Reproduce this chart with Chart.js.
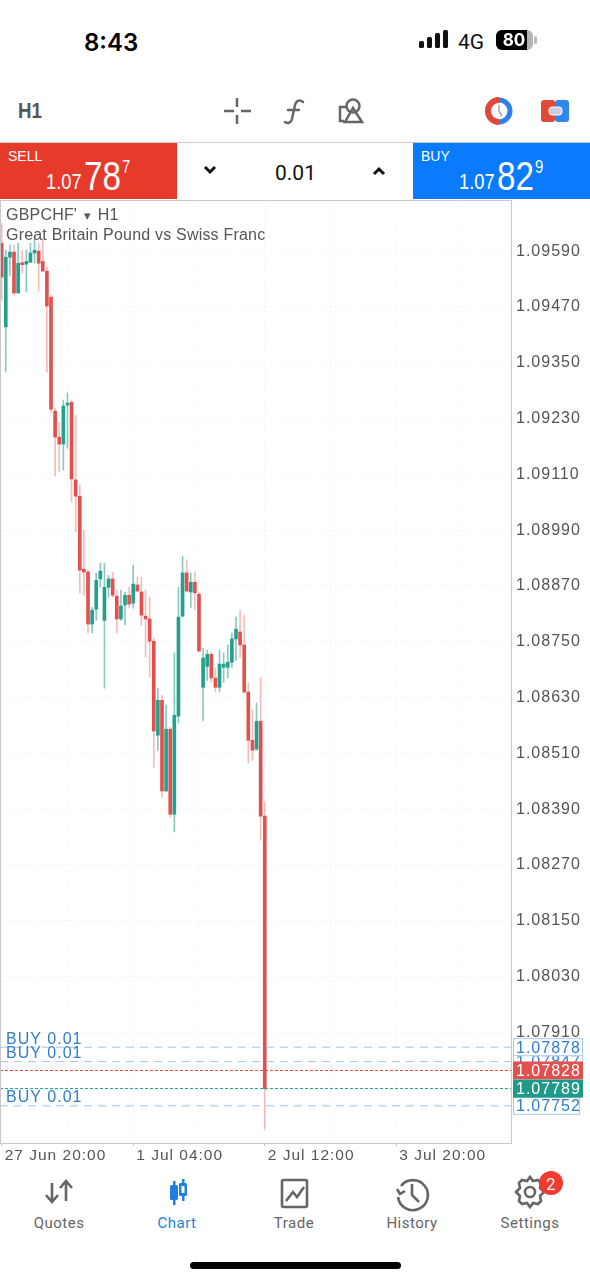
<!DOCTYPE html>
<html>
<head>
<meta charset="utf-8">
<script src="https://cdn.jsdelivr.net/npm/chart.js@4"></script>
<style>
  html, body { margin: 0; padding: 0; background: #fff; }
  body { position: relative; width: 590px; height: 1280px; overflow: hidden; font-family: "Liberation Sans", sans-serif; }
  .t { position: absolute; white-space: nowrap; line-height: 1; }
  .ic { position: absolute; left: 0; top: 0; }
  .bar { position: absolute; top: 143px; height: 56px; }
  .nar { color: #fff; transform: scaleX(0.83); transform-origin: left center; }
  .tab { position: absolute; top: 1216px; width: 100px; text-align: center; font: 15px Roboto, sans-serif; letter-spacing: .5px; color: #666; line-height: 1; }
  #wrap { position: absolute; left: 0; top: 200px; width: 590px; height: 975px; }
  canvas { display: block; }
</style>
</head>
<body>

<div class="t" style="left:84px;top:28px;font:600 24px Inter,sans-serif;color:#000">8:43</div>
<div class="t" style="left:458px;top:30px;font:21px Roboto,sans-serif;color:#111">4G</div>
<div class="t" style="left:18px;top:98px;font:bold 22px 'Liberation Sans',sans-serif;color:#555;transform:scaleX(.85);transform-origin:left">H1</div>

<div class="bar" style="left:0;width:177px;background:#e63a2a"></div>
<div class="bar" style="left:413px;width:177px;background:#0a7bff"></div>
<div style="position:absolute;left:0;top:142px;width:590px;height:1px;background:#ccc"></div>

<div class="t" style="left:8px;top:149px;font-size:14px;color:#fff">SELL</div>
<div class="t nar" style="left:46px;top:171px;font-size:22px">1.07</div>
<div class="t nar" style="left:84px;top:156px;font-size:40px">78</div>
<div class="t nar" style="left:122px;top:158px;font-size:18px">7</div>
<div class="t" style="left:421px;top:149px;font-size:14px;color:#fff">BUY</div>
<div class="t nar" style="left:459px;top:171px;font-size:22px">1.07</div>
<div class="t nar" style="left:497px;top:156px;font-size:40px">82</div>
<div class="t nar" style="left:535px;top:158px;font-size:18px">9</div>
<div class="t" style="left:275px;top:161px;font:21px Roboto,sans-serif;color:#111">0.01</div>

<div id="wrap"><canvas id="myChart" width="590" height="975"></canvas></div>

<div class="t" style="left:6px;top:206px;font:16px 'Liberation Sans',sans-serif;letter-spacing:.2px;color:#555">GBPCHF' <span style="font-size:13px;margin:0 2px;vertical-align:0">&#9662;</span> H1</div>
<div class="t" style="left:6px;top:226px;font:16px 'Liberation Sans',sans-serif;letter-spacing:.2px;color:#555">Great Britain Pound vs Swiss Franc</div>

<div class="tab" style="left:9px">Quotes</div>
<div class="tab" style="left:127px;color:#1f7fe0">Chart</div>
<div class="tab" style="left:244px">Trade</div>
<div class="tab" style="left:362px">History</div>
<div class="tab" style="left:480px">Settings</div>

<svg class="ic" width="590" height="1280" style="pointer-events:none">
  <!-- status bar -->
  <g fill="#111">
    <rect x="419" y="41" width="5" height="7" rx="1.5"/><rect x="427" y="37" width="5" height="11" rx="1.5"/>
    <rect x="435" y="33" width="5" height="15" rx="1.5"/><rect x="443" y="30" width="5" height="18" rx="1.5"/>
  </g>
  <rect x="496" y="30" width="37" height="20" rx="6" fill="#b5b5b5"/>
  <path d="M502 30h25v20h-25a6 6 0 0 1-6-6v-8a6 6 0 0 1 6-6z" fill="#000"/>
  <rect x="534" y="36" width="3" height="8" rx="1.5" fill="#bbb"/>
  <text x="514" y="46" font-family="Inter,sans-serif" font-weight="700" font-size="17" fill="#fff" text-anchor="middle">80</text>
  <!-- toolbar -->
  <g stroke="#666" stroke-width="2.5" fill="none">
    <path d="M224 111h10M241 111h10M237 98v9M237 115v9"/>
    <path d="M303 102c-4-3-7-1-8 3l-3 14c-1 4-4 5-7 3M288 110h11" stroke-linecap="round"/>
    <circle cx="353" cy="106" r="6.5"/><path d="M353 108l9 14h-17z"/><path d="M347 107h-7v14h4"/>
  </g>
  <circle cx="499" cy="111" r="11" fill="none" stroke="#2f7fe8" stroke-width="5"/>
  <path d="M499 97a14 14 0 0 0 0 28v-6a8 8 0 0 1 0-16z" fill="#df4a38"/>
  <path d="M499 105v6l3 5" stroke="#aaa" stroke-width="1.5" fill="none"/>
  <rect x="541" y="100" width="14" height="22" rx="3" fill="#df4a38"/><rect x="555" y="100" width="14" height="22" rx="3" fill="#2f87ee"/>
  <rect x="549" y="107" width="13" height="8" rx="3" fill="#ccd" stroke="#fff"/>
  <!-- lot chevrons -->
  <path d="M205 167l5 5 5-5M374 174l5-5 5 5" fill="none" stroke="#111" stroke-width="3"/>
  <!-- tab icons -->
  <g stroke="#666" stroke-width="2.6" fill="none">
    <path d="M52 1183v18M46 1195l6 7 6-7M66 1201v-19M60 1188l6-7 6 7"/>
    <rect x="282" y="1180" width="25" height="27" rx="1.5"/><path d="M286 1201l7-9 4 5 7-10"/>
    <path d="M401 1186a15 15 0 1 1-3 11M397 1189l3 5 5-3M412 1184v11l7 7"/>
    <circle cx="530" cy="1192" r="5"/>
    <path d="M530 1177l3 4 5-1 3 3-1 5 4 4-4 4 1 5-3 3-5-1-3 4-3-4-5 1-3-3 1-5-4-4 4-4-1-5 3-3 5 1z"/>
  </g>
  <g fill="#1f7fe0">
    <rect x="173" y="1181" width="2.5" height="24"/><rect x="170" y="1185" width="8" height="15" rx="1.5"/>
    <rect x="182" y="1179" width="2.5" height="22"/><rect x="179" y="1183" width="8" height="13" rx="1.5"/>
    <rect x="181.5" y="1186" width="3" height="7" fill="#fff"/>
  </g>
  <circle cx="551" cy="1183" r="12" fill="#f23b30"/>
  <rect x="190" y="1262" width="211" height="7" rx="3.5" fill="#000"/>
</svg>
<div class="t" style="left:546px;top:1174px;font:17px Roboto,sans-serif;color:#fff">2</div>

<script>
// GBPCHF' H1, one entry per candle
const opens = [
  1.09607, 1.09427, 1.09577, 1.09588, 1.09500, 1.09564, 1.09562, 1.09566, 1.09586, 1.09590,
  1.09568, 1.09547, 1.09491, 1.09246, 1.09190, 1.09175, 1.09259, 1.09265, 1.09098, 1.09063,
  1.08906, 1.08900, 1.08788, 1.08820, 1.08885, 1.08796, 1.08867, 1.08885, 1.08848, 1.08799,
  1.08829, 1.08850, 1.08833, 1.08872, 1.08857, 1.08805, 1.08799, 1.08751, 1.08549, 1.08624,
  1.08429, 1.08562, 1.08379, 1.08590, 1.08805, 1.08898, 1.08857, 1.08878, 1.08852, 1.08652,
  1.08697, 1.08723, 1.08672, 1.08652, 1.08695, 1.08695, 1.08706, 1.08756, 1.08771, 1.08743,
  1.08642, 1.08538, 1.08519, 1.08579, 1.08375
];
const highs = [
  1.09650, 1.09592, 1.09603, 1.09603, 1.09607, 1.09592, 1.09592, 1.09607, 1.09620, 1.09607,
  1.09618, 1.09556, 1.09495, 1.09252, 1.09222, 1.09270, 1.09285, 1.09270, 1.09237, 1.09087,
  1.08990, 1.08904, 1.08824, 1.08898, 1.08919, 1.08919, 1.08893, 1.08900, 1.08861, 1.08861,
  1.08857, 1.08867, 1.08915, 1.08889, 1.08889, 1.08861, 1.08846, 1.08758, 1.08650, 1.08635,
  1.08614, 1.08566, 1.08726, 1.08867, 1.08934, 1.08926, 1.08898, 1.08900, 1.08857, 1.08736,
  1.08732, 1.08728, 1.08693, 1.08732, 1.08726, 1.08743, 1.08769, 1.08803, 1.08818, 1.08807,
  1.08661, 1.08603, 1.08618, 1.08674, 1.08405
];
const lows = [
  1.09485, 1.09330, 1.09538, 1.09495, 1.09500, 1.09543, 1.09502, 1.09566, 1.09564, 1.09504,
  1.09547, 1.09330, 1.09242, 1.09106, 1.09115, 1.09119, 1.09166, 1.09050, 1.08986, 1.08855,
  1.08850, 1.08769, 1.08769, 1.08796, 1.08867, 1.08650, 1.08846, 1.08846, 1.08769, 1.08796,
  1.08786, 1.08824, 1.08822, 1.08857, 1.08786, 1.08717, 1.08674, 1.08480, 1.08517, 1.08416,
  1.08427, 1.08373, 1.08341, 1.08575, 1.08803, 1.08857, 1.08824, 1.08818, 1.08728, 1.08581,
  1.08667, 1.08663, 1.08642, 1.08642, 1.08663, 1.08672, 1.08695, 1.08710, 1.08715, 1.08640,
  1.08489, 1.08495, 1.08517, 1.08323, 1.07702
];
const closes = [
  1.09534, 1.09577, 1.09588, 1.09500, 1.09564, 1.09561, 1.09568, 1.09586, 1.09592, 1.09564,
  1.09547, 1.09472, 1.09250, 1.09190, 1.09175, 1.09257, 1.09263, 1.09100, 1.09063, 1.08904,
  1.08900, 1.08788, 1.08818, 1.08882, 1.08902, 1.08867, 1.08885, 1.08850, 1.08799, 1.08827,
  1.08850, 1.08831, 1.08874, 1.08859, 1.08807, 1.08799, 1.08751, 1.08558, 1.08624, 1.08429,
  1.08562, 1.08379, 1.08592, 1.08803, 1.08898, 1.08859, 1.08878, 1.08855, 1.08730, 1.08715,
  1.08723, 1.08672, 1.08652, 1.08702, 1.08702, 1.08706, 1.08756, 1.08777, 1.08743, 1.08642,
  1.08538, 1.08517, 1.08579, 1.08375, 1.07789
];

const priceTicks = [
  1.09590, 1.09470, 1.09350, 1.09230, 1.09110, 1.08990, 1.08870, 1.08750,
  1.08630, 1.08510, 1.08390, 1.08270, 1.08150, 1.08030, 1.07910
];
const gridCandles = [0, 16, 32, 48, 64, 80, 96, 112];
const labelCandles = [0, 32, 64, 96];
const labelTexts = ["27 Jun 20:00", "1 Jul 04:00", "2 Jul 12:00", "3 Jul 20:00"];

const buyOrders = [1.07878, 1.07847, 1.07752];
const askPrice = 1.07828;
const bidPrice = 1.07789;

const RED = "#e2514e";
const GREEN = "#26a08e";
const RED_WICK = "rgba(226,81,78,0.38)";
const GREEN_WICK = "rgba(38,160,142,0.55)";
const ORDER_LINE = "#9cc4ee";
const X_MIN = -0.41;
const X_MAX = 123.9;

const isUp = opens.map((o, i) => closes[i] > o);

function hLine(price, color, dash) {
  return {
    type: "line",
    data: [{ x: X_MIN, y: price }, { x: X_MAX, y: price }],
    borderColor: color,
    borderWidth: 1,
    borderDash: dash,
    pointRadius: 0,
    order: -1,
  };
}

const frameAndTags = {
  id: "frameAndTags",
  beforeDraw(chart) {
    chart.ctx.letterSpacing = "1px";
  },
  afterDraw(chart) {
    const { ctx, chartArea: a, scales } = chart;
    const y = scales.y;
    ctx.save();
    ctx.letterSpacing = "1px";
    ctx.strokeStyle = "#c9c9c9";
    ctx.lineWidth = 1;
    ctx.strokeRect(a.left + 0.5, a.top + 0.5, a.right - a.left, a.bottom - a.top);

    ctx.font = "16px 'Liberation Sans'";
    ctx.textBaseline = "middle";
    ctx.textAlign = "left";

    ctx.fillStyle = "#2f7ecb";
    buyOrders.forEach((p) => {
      ctx.fillText("BUY 0.01", 6, y.getPixelForValue(p) - 8);
    });

    // price tags, lowest priority first so the quotes cover them
    const tag = (p, fill, stroke, text, w) => {
      const py = y.getPixelForValue(p);
      ctx.fillStyle = fill;
      ctx.fillRect(513, py - 9, w, 18);
      if (stroke) {
        ctx.strokeStyle = stroke;
        ctx.strokeRect(513.5, py - 9 + 0.5, w - 1, 17);
      }
      ctx.fillStyle = text;
      ctx.fillText(p.toFixed(5), 516, py + 1);
    };
    tag(buyOrders[1], "#fff", "#a9c9ec", "#2f7ecb", 70);
    tag(buyOrders[0], "#fff", "#a9c9ec", "#2f7ecb", 70);
    tag(buyOrders[2], "#fff", "#a9c9ec", "#2f7ecb", 67);
    tag(askPrice, "#e2514e", null, "#fff", 70);
    tag(bidPrice, "#1f9a8a", null, "#fff", 70);
    ctx.restore();
  },
};

new Chart(document.getElementById("myChart"), {
  data: {
    datasets: [
      {
        type: "bar",
        data: highs.map((h, i) => ({ x: i, y: [lows[i], h] })),
        backgroundColor: isUp.map((u) => (u ? GREEN_WICK : RED_WICK)),
        barThickness: 1,
      },
      {
        type: "bar",
        data: opens.map((o, i) => ({ x: i, y: [o, closes[i]] })),
        backgroundColor: isUp.map((u) => (u ? GREEN : RED)),
        barThickness: 3,
        minBarLength: 2,
      },
      hLine(buyOrders[0], ORDER_LINE, [8, 6]),
      hLine(buyOrders[1], ORDER_LINE, [8, 6]),
      hLine(buyOrders[2], ORDER_LINE, [8, 6]),
      hLine(askPrice, "#e8443f", [3, 2]),
      hLine(bidPrice, "#14a08c", [3, 2]),
    ],
  },
  options: {
    responsive: false,
    animation: false,
    grouped: false,
    layout: { padding: 0 },
    plugins: { legend: { display: false }, tooltip: { enabled: false } },
    scales: {
      x: {
        type: "linear",
        offset: false,
        min: X_MIN,
        max: X_MAX,
        afterBuildTicks: (s) => { s.ticks = gridCandles.map((v) => ({ value: v })); },
        afterFit: (s) => { s.height = 32; s.paddingLeft = 0; s.paddingRight = 0; },
        grid: {
          offset: false,
          color: "rgba(0,0,0,0.045)",
          tickColor: (c) => (labelCandles.includes(c.tick && c.tick.value) ? "#c9c9c9" : "rgba(0,0,0,0)"),
          tickLength: 3,
        },
        border: { display: false, dash: [2, 3] },
        ticks: {
          autoSkip: false,
          maxRotation: 0,
          align: "start",
          labelOffset: 3,
          padding: 0,
          color: "#555",
          font: { family: "'Liberation Sans'", size: 15.5 },
          callback: (v) => {
            const k = labelCandles.indexOf(v);
            return k < 0 ? "" : labelTexts[k];
          },
        },
      },
      y: {
        position: "right",
        min: 1.07672,
        max: 1.09700,
        afterBuildTicks: (s) => { s.ticks = priceTicks.map((v) => ({ value: v })); },
        afterFit: (s) => { s.width = 79; s.paddingTop = 0; s.paddingBottom = 0; },
        grid: { color: "rgba(0,0,0,0.045)", drawTicks: false },
        border: { display: false, dash: [2, 3] },
        ticks: {
          autoSkip: false,
          padding: 5,
          color: "#555",
          font: { family: "'Liberation Sans'", size: 16 },
          callback: (v) => v.toFixed(5),
        },
      },
    },
  },
  plugins: [frameAndTags],
});
</script>
</body>
</html>
